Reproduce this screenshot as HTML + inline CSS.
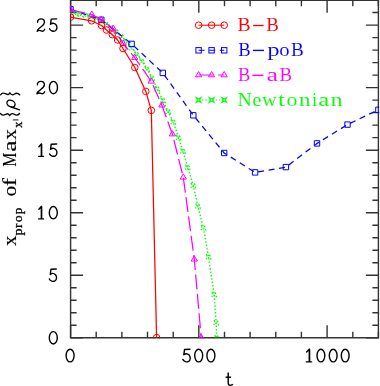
<!DOCTYPE html><html><head><meta charset="utf-8"><style>
html,body{margin:0;padding:0;background:#fff;width:380px;height:386px;overflow:hidden}
svg{display:block;will-change:transform}
text{font-family:"Liberation Serif",serif;stroke:#fff;stroke-width:0.08px}
.yl text{stroke:#000;stroke-width:0.12px}
</style></head><body>
<svg width="380" height="386" viewBox="0 0 380 386">
<defs><clipPath id="pc"><rect x="69.9" y="-1" width="309.3" height="339.6"/></clipPath></defs>
<rect width="380" height="386" fill="#fff"/>
<g stroke="#333" stroke-width="1.4" fill="none">
<path d="M70.6 0.3H378.4V337.8H70.6Z"/>
<path d="M70.6 337.8V325.3M70.6 0.3V12.8M96.2 337.8V331.8M96.2 0.3V6.3M121.9 337.8V331.8M121.9 0.3V6.3M147.5 337.8V331.8M147.5 0.3V6.3M173.2 337.8V331.8M173.2 0.3V6.3M198.8 337.8V325.3M198.8 0.3V12.8M224.5 337.8V331.8M224.5 0.3V6.3M250.1 337.8V331.8M250.1 0.3V6.3M275.8 337.8V331.8M275.8 0.3V6.3M301.4 337.8V331.8M301.4 0.3V6.3M327.1 337.8V325.3M327.1 0.3V12.8M352.8 337.8V331.8M352.8 0.3V6.3M378.4 337.8V331.8M378.4 0.3V6.3M70.6 337.8H83.1M378.4 337.8H365.9M70.6 325.3H76.6M378.4 325.3H372.4M70.6 312.8H76.6M378.4 312.8H372.4M70.6 300.3H76.6M378.4 300.3H372.4M70.6 287.8H76.6M378.4 287.8H372.4M70.6 275.2H83.1M378.4 275.2H365.9M70.6 262.7H76.6M378.4 262.7H372.4M70.6 250.2H76.6M378.4 250.2H372.4M70.6 237.7H76.6M378.4 237.7H372.4M70.6 225.2H76.6M378.4 225.2H372.4M70.6 212.7H83.1M378.4 212.7H365.9M70.6 200.2H76.6M378.4 200.2H372.4M70.6 187.7H76.6M378.4 187.7H372.4M70.6 175.2H76.6M378.4 175.2H372.4M70.6 162.7H76.6M378.4 162.7H372.4M70.6 150.2H83.1M378.4 150.2H365.9M70.6 137.6H76.6M378.4 137.6H372.4M70.6 125.1H76.6M378.4 125.1H372.4M70.6 112.6H76.6M378.4 112.6H372.4M70.6 100.1H76.6M378.4 100.1H372.4M70.6 87.6H83.1M378.4 87.6H365.9M70.6 75.1H76.6M378.4 75.1H372.4M70.6 62.6H76.6M378.4 62.6H372.4M70.6 50.1H76.6M378.4 50.1H372.4M70.6 37.6H76.6M378.4 37.6H372.4M70.6 25.1H83.1M378.4 25.1H365.9M70.6 12.5H76.6M378.4 12.5H372.4M70.6 0.0H76.6M378.4 0.0H372.4"/>
</g>
<g clip-path="url(#pc)" stroke-linejoin="round">
<polyline points="70.5,12.6 75.6,13.5 80.7,14.3 85.8,15.2 90.9,16.1 96.0,18.4 101.1,20.8 106.2,23.9 111.3,27.4 116.4,31.5 121.5,36.4 126.6,41.9 131.7,47.9 136.8,54.2 141.9,61.1 147.0,69.1 152.1,77.9 157.2,88.8 162.9,100.2 168.1,111.5 173.2,121.8 178.4,137.5 182.9,151.0 187.7,167.3 193.2,185.4 197.9,206.0 203.4,227.8 208.5,256.8 214.1,294.4 216.2,322.6 216.8,337.6" fill="none" stroke="#0f0" stroke-width="1.4" stroke-dasharray="1.4 2.0"/>
<path d="M68.10 10.20L70.50 11.70L72.90 10.20L71.40 12.60L72.90 15.00L70.50 13.50L68.10 15.00L69.60 12.60Z" fill="none" stroke="#0f0" stroke-width="1.30" stroke-dasharray="1.2 2.2"/>
<path d="M73.20 11.07L75.60 12.57L78.00 11.07L76.50 13.47L78.00 15.87L75.60 14.37L73.20 15.87L74.70 13.47Z" fill="none" stroke="#0f0" stroke-width="1.30" stroke-dasharray="1.2 2.2"/>
<path d="M78.30 11.95L80.70 13.45L83.10 11.95L81.60 14.35L83.10 16.75L80.70 15.25L78.30 16.75L79.80 14.35Z" fill="none" stroke="#0f0" stroke-width="1.30" stroke-dasharray="1.2 2.2"/>
<path d="M83.40 12.82L85.80 14.32L88.20 12.82L86.70 15.22L88.20 17.62L85.80 16.12L83.40 17.62L84.90 15.22Z" fill="none" stroke="#0f0" stroke-width="1.30" stroke-dasharray="1.2 2.2"/>
<path d="M88.50 13.70L90.90 15.20L93.30 13.70L91.80 16.10L93.30 18.50L90.90 17.00L88.50 18.50L90.00 16.10Z" fill="none" stroke="#0f0" stroke-width="1.30" stroke-dasharray="1.2 2.2"/>
<path d="M93.60 15.96L96.00 17.46L98.40 15.96L96.90 18.36L98.40 20.76L96.00 19.26L93.60 20.76L95.10 18.36Z" fill="none" stroke="#0f0" stroke-width="1.30" stroke-dasharray="1.2 2.2"/>
<path d="M98.70 18.41L101.10 19.91L103.50 18.41L102.00 20.81L103.50 23.21L101.10 21.71L98.70 23.21L100.20 20.81Z" fill="none" stroke="#0f0" stroke-width="1.30" stroke-dasharray="1.2 2.2"/>
<path d="M103.80 21.48L106.20 22.98L108.60 21.48L107.10 23.88L108.60 26.28L106.20 24.78L103.80 26.28L105.30 23.88Z" fill="none" stroke="#0f0" stroke-width="1.30" stroke-dasharray="1.2 2.2"/>
<path d="M108.90 25.01L111.30 26.51L113.70 25.01L112.20 27.41L113.70 29.81L111.30 28.31L108.90 29.81L110.40 27.41Z" fill="none" stroke="#0f0" stroke-width="1.30" stroke-dasharray="1.2 2.2"/>
<path d="M114.00 29.12L116.40 30.62L118.80 29.12L117.30 31.52L118.80 33.92L116.40 32.42L114.00 33.92L115.50 31.52Z" fill="none" stroke="#0f0" stroke-width="1.30" stroke-dasharray="1.2 2.2"/>
<path d="M119.10 34.00L121.50 35.50L123.90 34.00L122.40 36.40L123.90 38.80L121.50 37.30L119.10 38.80L120.60 36.40Z" fill="none" stroke="#0f0" stroke-width="1.30" stroke-dasharray="1.2 2.2"/>
<path d="M124.20 39.53L126.60 41.03L129.00 39.53L127.50 41.93L129.00 44.33L126.60 42.83L124.20 44.33L125.70 41.93Z" fill="none" stroke="#0f0" stroke-width="1.30" stroke-dasharray="1.2 2.2"/>
<path d="M129.30 45.54L131.70 47.04L134.10 45.54L132.60 47.94L134.10 50.34L131.70 48.84L129.30 50.34L130.80 47.94Z" fill="none" stroke="#0f0" stroke-width="1.30" stroke-dasharray="1.2 2.2"/>
<path d="M134.40 51.80L136.80 53.30L139.20 51.80L137.70 54.20L139.20 56.60L136.80 55.10L134.40 56.60L135.90 54.20Z" fill="none" stroke="#0f0" stroke-width="1.30" stroke-dasharray="1.2 2.2"/>
<path d="M139.50 58.74L141.90 60.24L144.30 58.74L142.80 61.14L144.30 63.54L141.90 62.04L139.50 63.54L141.00 61.14Z" fill="none" stroke="#0f0" stroke-width="1.30" stroke-dasharray="1.2 2.2"/>
<path d="M144.60 66.74L147.00 68.24L149.40 66.74L147.90 69.14L149.40 71.54L147.00 70.04L144.60 71.54L146.10 69.14Z" fill="none" stroke="#0f0" stroke-width="1.30" stroke-dasharray="1.2 2.2"/>
<path d="M149.70 75.51L152.10 77.01L154.50 75.51L153.00 77.91L154.50 80.31L152.10 78.81L149.70 80.31L151.20 77.91Z" fill="none" stroke="#0f0" stroke-width="1.30" stroke-dasharray="1.2 2.2"/>
<path d="M154.80 86.40L157.20 87.90L159.60 86.40L158.10 88.80L159.60 91.20L157.20 89.70L154.80 91.20L156.30 88.80Z" fill="none" stroke="#0f0" stroke-width="1.30" stroke-dasharray="1.2 2.2"/>
<path d="M160.50 97.80L162.90 99.30L165.30 97.80L163.80 100.20L165.30 102.60L162.90 101.10L160.50 102.60L162.00 100.20Z" fill="none" stroke="#0f0" stroke-width="1.30" stroke-dasharray="1.2 2.2"/>
<path d="M165.70 109.10L168.10 110.60L170.50 109.10L169.00 111.50L170.50 113.90L168.10 112.40L165.70 113.90L167.20 111.50Z" fill="none" stroke="#0f0" stroke-width="1.30" stroke-dasharray="1.2 2.2"/>
<path d="M170.80 119.40L173.20 120.90L175.60 119.40L174.10 121.80L175.60 124.20L173.20 122.70L170.80 124.20L172.30 121.80Z" fill="none" stroke="#0f0" stroke-width="1.30" stroke-dasharray="1.2 2.2"/>
<path d="M176.00 135.10L178.40 136.60L180.80 135.10L179.30 137.50L180.80 139.90L178.40 138.40L176.00 139.90L177.50 137.50Z" fill="none" stroke="#0f0" stroke-width="1.30" stroke-dasharray="1.2 2.2"/>
<path d="M180.50 148.60L182.90 150.10L185.30 148.60L183.80 151.00L185.30 153.40L182.90 151.90L180.50 153.40L182.00 151.00Z" fill="none" stroke="#0f0" stroke-width="1.30" stroke-dasharray="1.2 2.2"/>
<path d="M185.30 164.90L187.70 166.40L190.10 164.90L188.60 167.30L190.10 169.70L187.70 168.20L185.30 169.70L186.80 167.30Z" fill="none" stroke="#0f0" stroke-width="1.30" stroke-dasharray="1.2 2.2"/>
<path d="M190.80 183.00L193.20 184.50L195.60 183.00L194.10 185.40L195.60 187.80L193.20 186.30L190.80 187.80L192.30 185.40Z" fill="none" stroke="#0f0" stroke-width="1.30" stroke-dasharray="1.2 2.2"/>
<path d="M195.50 203.60L197.90 205.10L200.30 203.60L198.80 206.00L200.30 208.40L197.90 206.90L195.50 208.40L197.00 206.00Z" fill="none" stroke="#0f0" stroke-width="1.30" stroke-dasharray="1.2 2.2"/>
<path d="M201.00 225.40L203.40 226.90L205.80 225.40L204.30 227.80L205.80 230.20L203.40 228.70L201.00 230.20L202.50 227.80Z" fill="none" stroke="#0f0" stroke-width="1.30" stroke-dasharray="1.2 2.2"/>
<path d="M206.10 254.40L208.50 255.90L210.90 254.40L209.40 256.80L210.90 259.20L208.50 257.70L206.10 259.20L207.60 256.80Z" fill="none" stroke="#0f0" stroke-width="1.30" stroke-dasharray="1.2 2.2"/>
<path d="M211.70 292.00L214.10 293.50L216.50 292.00L215.00 294.40L216.50 296.80L214.10 295.30L211.70 296.80L213.20 294.40Z" fill="none" stroke="#0f0" stroke-width="1.30" stroke-dasharray="1.2 2.2"/>
<path d="M213.80 320.20L216.20 321.70L218.60 320.20L217.10 322.60L218.60 325.00L216.20 323.50L213.80 325.00L215.30 322.60Z" fill="none" stroke="#0f0" stroke-width="1.30" stroke-dasharray="1.2 2.2"/>
<path d="M214.40 335.20L216.80 336.70L219.20 335.20L217.70 337.60L219.20 340.00L216.80 338.50L214.40 340.00L215.90 337.60Z" fill="none" stroke="#0f0" stroke-width="1.30" stroke-dasharray="1.2 2.2"/>
<polyline points="70.5,9.3 101.3,19.8 131.6,43.9 162.8,72.9 193.3,115.3 224.2,153.0 255.1,172.4 285.9,167.1 317.0,143.4 347.5,124.6 378.4,109.8" fill="none" stroke="#00f" stroke-width="1.25" stroke-dasharray="6 4.6"/>
<rect x="67.8" y="6.6" width="5.4" height="5.4" fill="none" stroke="#00f" stroke-width="1.00"/>
<rect x="98.6" y="17.1" width="5.4" height="5.4" fill="none" stroke="#00f" stroke-width="1.00"/>
<rect x="128.9" y="41.2" width="5.4" height="5.4" fill="none" stroke="#00f" stroke-width="1.00"/>
<rect x="160.1" y="70.2" width="5.4" height="5.4" fill="none" stroke="#00f" stroke-width="1.00"/>
<rect x="190.6" y="112.6" width="5.4" height="5.4" fill="none" stroke="#00f" stroke-width="1.00"/>
<rect x="221.5" y="150.3" width="5.4" height="5.4" fill="none" stroke="#00f" stroke-width="1.00"/>
<rect x="252.4" y="169.7" width="5.4" height="5.4" fill="none" stroke="#00f" stroke-width="1.00"/>
<rect x="283.2" y="164.4" width="5.4" height="5.4" fill="none" stroke="#00f" stroke-width="1.00"/>
<rect x="314.3" y="140.7" width="5.4" height="5.4" fill="none" stroke="#00f" stroke-width="1.00"/>
<rect x="344.8" y="121.9" width="5.4" height="5.4" fill="none" stroke="#00f" stroke-width="1.00"/>
<rect x="375.7" y="107.1" width="5.4" height="5.4" fill="none" stroke="#00f" stroke-width="1.00"/>
<polyline points="70.5,9.8 91.8,14.5 101.2,19.6 113.3,28.6 123.2,43.5 134.7,57.6 151.2,81.3 161.9,105.2 172.4,134.1 183.3,177.3 194.3,259.3 201.2,337.6" fill="none" stroke="#f0f" stroke-width="1.25" stroke-dasharray="15 4.5"/>
<path d="M70.5 6.3L73.6 11.6L67.4 11.6Z" fill="none" stroke="#f0f" stroke-width="1.00"/>
<path d="M91.8 11.0L94.9 16.3L88.7 16.3Z" fill="none" stroke="#f0f" stroke-width="1.00"/>
<path d="M101.2 16.1L104.3 21.4L98.1 21.4Z" fill="none" stroke="#f0f" stroke-width="1.00"/>
<path d="M113.3 25.1L116.4 30.4L110.2 30.4Z" fill="none" stroke="#f0f" stroke-width="1.00"/>
<path d="M123.2 40.0L126.3 45.3L120.1 45.3Z" fill="none" stroke="#f0f" stroke-width="1.00"/>
<path d="M134.7 54.1L137.8 59.4L131.6 59.4Z" fill="none" stroke="#f0f" stroke-width="1.00"/>
<path d="M151.2 77.8L154.3 83.1L148.1 83.1Z" fill="none" stroke="#f0f" stroke-width="1.00"/>
<path d="M161.9 101.7L165.0 107.0L158.8 107.0Z" fill="none" stroke="#f0f" stroke-width="1.00"/>
<path d="M172.4 130.6L175.5 135.9L169.3 135.9Z" fill="none" stroke="#f0f" stroke-width="1.00"/>
<path d="M183.3 173.8L186.4 179.1L180.2 179.1Z" fill="none" stroke="#f0f" stroke-width="1.00"/>
<path d="M194.3 255.8L197.4 261.1L191.2 261.1Z" fill="none" stroke="#f0f" stroke-width="1.00"/>
<path d="M201.2 334.1L204.3 339.4L198.1 339.4Z" fill="none" stroke="#f0f" stroke-width="1.00"/>
<polyline points="70.5,17.2 91.6,20.8 101.5,25.5 106.5,30.0 112.3,34.7 117.6,40.0 123.0,48.5 134.8,67.5 145.8,91.4 151.3,110.4 156.6,337.6" fill="none" stroke="#f00" stroke-width="1.25"/>
<circle cx="70.5" cy="17.2" r="3.3" fill="none" stroke="#f00" stroke-width="1.00"/>
<circle cx="91.6" cy="20.8" r="3.3" fill="none" stroke="#f00" stroke-width="1.00"/>
<circle cx="101.5" cy="25.5" r="3.3" fill="none" stroke="#f00" stroke-width="1.00"/>
<circle cx="106.5" cy="30.0" r="3.3" fill="none" stroke="#f00" stroke-width="1.00"/>
<circle cx="112.3" cy="34.7" r="3.3" fill="none" stroke="#f00" stroke-width="1.00"/>
<circle cx="117.6" cy="40.0" r="3.3" fill="none" stroke="#f00" stroke-width="1.00"/>
<circle cx="123.0" cy="48.5" r="3.3" fill="none" stroke="#f00" stroke-width="1.00"/>
<circle cx="134.8" cy="67.5" r="3.3" fill="none" stroke="#f00" stroke-width="1.00"/>
<circle cx="145.8" cy="91.4" r="3.3" fill="none" stroke="#f00" stroke-width="1.00"/>
<circle cx="151.3" cy="110.4" r="3.3" fill="none" stroke="#f00" stroke-width="1.00"/>
<circle cx="156.6" cy="337.6" r="3.3" fill="none" stroke="#f00" stroke-width="1.00"/>
</g>
<g>
<path d="M37.62 22.20C37.31 20.09 39.16 18.85 41.00 18.85C43.16 18.85 44.47 20.34 44.47 22.32C44.47 24.55 42.39 25.79 40.47 27.28C38.69 28.52 37.38 29.51 37.15 31.25C38.92 29.51 40.47 30.63 42.01 31.13C43.31 31.50 44.16 30.51 44.70 29.27" fill="none" stroke="#000" stroke-width="1.40" stroke-linecap="round" stroke-linejoin="round"/>
<path d="M56.66 18.85L51.22 19.10L50.50 24.31C51.94 23.07 54.26 22.94 55.86 24.55C57.46 26.29 57.30 29.51 55.30 30.75C53.46 31.75 50.58 31.00 49.54 28.77" fill="none" stroke="#000" stroke-width="1.40" stroke-linecap="round" stroke-linejoin="round"/>
<path d="M37.42 84.75C37.11 82.64 38.98 81.40 40.86 81.40C43.04 81.40 44.37 82.89 44.37 84.87C44.37 87.10 42.26 88.34 40.31 89.83C38.52 91.07 37.19 92.06 36.96 93.80C38.75 92.06 40.31 93.18 41.87 93.68C43.20 94.05 44.05 93.06 44.60 91.82" fill="none" stroke="#000" stroke-width="1.40" stroke-linecap="round" stroke-linejoin="round"/>
<ellipse cx="53.45" cy="87.60" rx="4.05" ry="6.20" fill="none" stroke="#000" stroke-width="1.40"/>
<path d="M41.34 143.95L41.34 156.35M41.34 143.95L38.89 146.68M38.60 156.35L43.50 156.35M41.64 144.20L41.64 156.10" fill="none" stroke="#000" stroke-width="1.40" stroke-linecap="round" stroke-linejoin="round"/>
<path d="M56.66 143.95L51.22 144.20L50.50 149.41C51.94 148.17 54.26 148.04 55.86 149.65C57.46 151.39 57.30 154.61 55.30 155.85C53.46 156.85 50.58 156.10 49.54 153.87" fill="none" stroke="#000" stroke-width="1.40" stroke-linecap="round" stroke-linejoin="round"/>
<path d="M41.34 206.50L41.34 218.90M41.34 206.50L38.89 209.23M38.60 218.90L43.50 218.90M41.64 206.75L41.64 218.65" fill="none" stroke="#000" stroke-width="1.40" stroke-linecap="round" stroke-linejoin="round"/>
<ellipse cx="53.30" cy="212.70" rx="4.00" ry="6.20" fill="none" stroke="#000" stroke-width="1.40"/>
<path d="M56.28 269.05L50.97 269.30L50.27 274.51C51.67 273.27 53.94 273.14 55.50 274.75C57.06 276.49 56.90 279.71 54.95 280.95C53.16 281.95 50.35 281.20 49.33 278.97" fill="none" stroke="#000" stroke-width="1.40" stroke-linecap="round" stroke-linejoin="round"/>
<ellipse cx="53.30" cy="337.80" rx="4.00" ry="6.20" fill="none" stroke="#000" stroke-width="1.40"/>
<ellipse cx="70.10" cy="355.60" rx="4.00" ry="6.30" fill="none" stroke="#000" stroke-width="1.40"/>
<path d="M189.96 349.30L184.52 349.55L183.80 354.84C185.24 353.58 187.56 353.46 189.16 355.10C190.76 356.86 190.60 360.14 188.60 361.40C186.76 362.40 183.88 361.65 182.84 359.38" fill="none" stroke="#000" stroke-width="1.40" stroke-linecap="round" stroke-linejoin="round"/>
<ellipse cx="198.70" cy="355.60" rx="4.00" ry="6.30" fill="none" stroke="#000" stroke-width="1.40"/>
<ellipse cx="210.90" cy="355.60" rx="4.00" ry="6.30" fill="none" stroke="#000" stroke-width="1.40"/>
<path d="M309.27 349.30L309.27 361.90M309.27 349.30L306.62 352.07M306.30 361.90L311.60 361.90M309.59 349.55L309.59 361.65" fill="none" stroke="#000" stroke-width="1.40" stroke-linecap="round" stroke-linejoin="round"/>
<ellipse cx="320.90" cy="355.60" rx="3.90" ry="6.30" fill="none" stroke="#000" stroke-width="1.40"/>
<ellipse cx="333.20" cy="355.60" rx="3.90" ry="6.30" fill="none" stroke="#000" stroke-width="1.40"/>
<ellipse cx="345.20" cy="355.60" rx="3.90" ry="6.30" fill="none" stroke="#000" stroke-width="1.40"/>
<path d="M228.2 372.6V383.2Q228.3 386.6 232.9 384.3M225.6 377.3H231.1" fill="none" stroke="#000" stroke-width="1.45"/>
</g>
<g class="yl">
<text transform="translate(15.80 250.00) rotate(-90) translate(4.09 0) scale(1.068 1)" font-size="19.5" fill="#000">x</text>
<text transform="translate(21.50 250.00) rotate(-90) translate(14.49 0) scale(1.106 1)" font-size="12.8" fill="#000" style="stroke-width:0.3px">p</text>
<text transform="translate(21.50 250.00) rotate(-90) translate(21.93 0) scale(1.050 1)" font-size="12.8" fill="#000" style="stroke-width:0.3px">r</text>
<text transform="translate(21.50 250.00) rotate(-90) translate(27.85 0) scale(1.079 1)" font-size="12.8" fill="#000" style="stroke-width:0.3px">o</text>
<text transform="translate(21.50 250.00) rotate(-90) translate(35.70 0) scale(1.018 1)" font-size="12.8" fill="#000" style="stroke-width:0.3px">p</text>
<text transform="translate(15.80 250.00) rotate(-90) translate(53.43 0) scale(1.111 1)" font-size="19.5" fill="#000">o</text>
<text transform="translate(15.80 250.00) rotate(-90) translate(63.76 0) scale(1.261 1)" font-size="19.5" fill="#000">f</text>
<text transform="translate(15.80 250.00) rotate(-90) translate(83.22 0) scale(0.816 1)" font-size="19.5" fill="#000">M</text>
<text transform="translate(15.80 250.00) rotate(-90) translate(98.21 0) scale(1.298 1)" font-size="19.5" fill="#000">a</text>
<text transform="translate(15.80 250.00) rotate(-90) translate(110.29 0) scale(1.090 1)" font-size="19.5" fill="#000">x</text>
<text transform="translate(22.00 250.00) rotate(-90) translate(122.28 0) scale(0.895 1)" font-size="13.5" fill="#000" style="stroke-width:0.3px">x</text>
<g fill="none" stroke="#000" stroke-width="1.35" stroke-linecap="round">
<path d="M0.6 94.8C1.5 93.5 2.5 93 3.5 93.2C5.5 93.5 7 94.8 8.2 94.5C9 94.3 9.5 93.2 9.8 92.9C10.2 93.5 11 94.8 12.4 94.8C14 94.8 15 93.2 16.5 93.2C18 93.2 19 94 19.7 94.8"/>
<path d="M0.4 113.5C1.3 114.8 2.3 115.3 3.3 115.1C5.3 114.8 6.8 113.5 8 113.8C8.8 114 9.3 115.1 9.7 115.5C10.1 114.9 10.9 113.6 12.3 113.6C13.9 113.6 14.9 115.1 16.4 115.1C17.9 115.1 18.9 114.3 19.5 113.5"/>
<ellipse cx="11.0" cy="103.6" rx="4.3" ry="3.2" transform="rotate(28 11 103.6)"/>
<path d="M11.3 107.0L19.6 109.8"/>
<path d="M13.3 119.9L18.0 119.9" stroke="#444" stroke-width="1.2"/>
</g>
</g>
<path d="M198.6 25.2H224.2" stroke="#f00" stroke-width="1.05" fill="none"/>
<circle cx="198.6" cy="25.2" r="3.3" fill="none" stroke="#f00" stroke-width="1.00"/>
<circle cx="211.6" cy="25.2" r="3.3" fill="none" stroke="#f00" stroke-width="1.00"/>
<circle cx="224.2" cy="25.2" r="3.3" fill="none" stroke="#f00" stroke-width="1.00"/>
<text transform="translate(237.61 31.30) scale(1.008 1)" font-size="19.5" fill="#f00">B</text>
<path d="M253.1 25.5H263.6" stroke="#f00" stroke-width="1.35"/>
<text transform="translate(266.33 31.30) scale(0.973 1)" font-size="19.5" fill="#f00">B</text>
<path d="M198.6 50.3H224.2" stroke="#00f" stroke-width="1.05" stroke-dasharray="6 4.6" fill="none"/>
<rect x="195.9" y="47.6" width="5.4" height="5.4" fill="none" stroke="#00f" stroke-width="1.00"/>
<rect x="208.9" y="47.6" width="5.4" height="5.4" fill="none" stroke="#00f" stroke-width="1.00"/>
<rect x="221.5" y="47.6" width="5.4" height="5.4" fill="none" stroke="#00f" stroke-width="1.00"/>
<text transform="translate(238.14 56.20) scale(0.956 1)" font-size="19.5" fill="#00f">B</text>
<path d="M253.0 50.4H264.0" stroke="#00f" stroke-width="1.35"/>
<text transform="translate(267.13 56.20) scale(1.268 1)" font-size="19.5" fill="#00f">p</text>
<text transform="translate(279.37 56.20) scale(1.062 1)" font-size="19.5" fill="#00f">o</text>
<text transform="translate(290.93 56.20) scale(0.982 1)" font-size="19.5" fill="#00f">B</text>
<path d="M198.6 75.0H224.2" stroke="#f0f" stroke-width="1.05" stroke-dasharray="15 4.5" fill="none"/>
<path d="M198.6 71.5L201.7 76.8L195.5 76.8Z" fill="none" stroke="#f0f" stroke-width="1.00"/>
<path d="M211.6 71.5L214.7 76.8L208.5 76.8Z" fill="none" stroke="#f0f" stroke-width="1.00"/>
<path d="M224.2 71.5L227.3 76.8L221.1 76.8Z" fill="none" stroke="#f0f" stroke-width="1.00"/>
<text transform="translate(238.05 81.10) scale(0.947 1)" font-size="19.5" fill="#f0f">B</text>
<path d="M252.3 75.3H263.4" stroke="#f0f" stroke-width="1.35"/>
<text transform="translate(266.49 81.10) scale(1.337 1)" font-size="19.5" fill="#f0f">a</text>
<text transform="translate(279.44 81.10) scale(0.965 1)" font-size="19.5" fill="#f0f">B</text>
<path d="M198.6 100.0H224.2" stroke="#0f0" stroke-width="1.05" stroke-dasharray="1.4 2.0" fill="none"/>
<path d="M196.15 97.55L198.60 98.90L201.05 97.55L199.70 100.00L201.05 102.45L198.60 101.10L196.15 102.45L197.50 100.00Z" fill="none" stroke="#0f0" stroke-width="1.05"/>
<path d="M209.15 97.55L211.60 98.90L214.05 97.55L212.70 100.00L214.05 102.45L211.60 101.10L209.15 102.45L210.50 100.00Z" fill="none" stroke="#0f0" stroke-width="1.05"/>
<path d="M221.75 97.55L224.20 98.90L226.65 97.55L225.30 100.00L226.65 102.45L224.20 101.10L221.75 102.45L223.10 100.00Z" fill="none" stroke="#0f0" stroke-width="1.05"/>
<text transform="translate(237.50 106.20) scale(1.018 1)" font-size="19.5" fill="#0f0">N</text>
<text transform="translate(252.27 106.20) scale(1.067 1)" font-size="19.5" fill="#0f0">e</text>
<text transform="translate(262.00 106.20) scale(1.047 1)" font-size="19.5" fill="#0f0">w</text>
<text transform="translate(277.95 106.20) scale(1.302 1)" font-size="19.5" fill="#0f0">t</text>
<text transform="translate(286.62 106.20) scale(1.123 1)" font-size="19.5" fill="#0f0">o</text>
<text transform="translate(298.92 106.20) scale(1.182 1)" font-size="19.5" fill="#0f0">n</text>
<text transform="translate(312.16 106.20) scale(0.876 1)" font-size="19.5" fill="#0f0">i</text>
<text transform="translate(318.23 106.20) scale(1.272 1)" font-size="19.5" fill="#0f0">a</text>
<text transform="translate(330.71 106.20) scale(1.215 1)" font-size="19.5" fill="#0f0">n</text>
</svg></body></html>
